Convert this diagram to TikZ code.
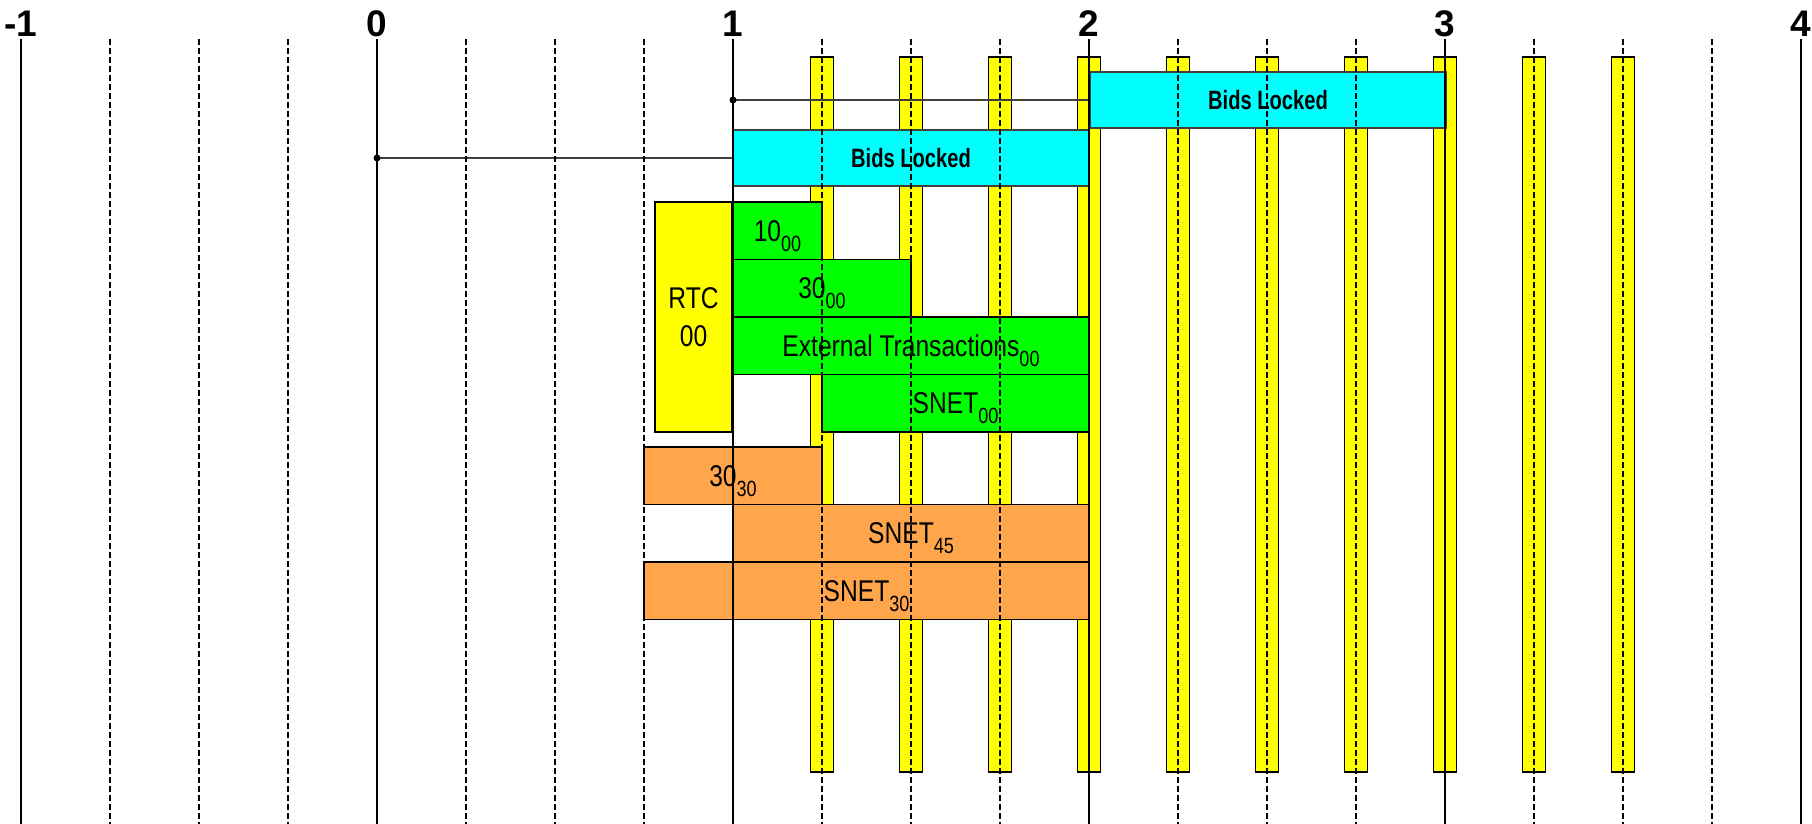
\documentclass[tikz,border=0pt]{standalone}
\usepackage{fontspec}
\setmainfont{Liberation Sans}
\newfontfamily\narrowfont[FakeStretch=0.82]{Liberation Sans}
\newfontfamily\bidsfont[FakeStretch=0.76]{Liberation Sans}
\newcommand\subtxt[1]{\raisebox{-10pt}{\fontsize{22}{22}\selectfont #1}}
\definecolor{cyanbox}{HTML}{00FFFF}
\definecolor{greenbox}{HTML}{00FF00}
\definecolor{yellowbox}{HTML}{FFFF00}
\definecolor{orangebox}{HTML}{FFA64D}
\definecolor{connector}{HTML}{404040}
\begin{document}
\begin{tikzpicture}[x=1pt,y=-1pt,
  boxbase/.style={draw=black, line width=1.5pt, inner sep=0pt, outer sep=0pt, anchor=north west},
  txtbox/.style={boxbase, font=\narrowfont\fontsize{30}{30}\selectfont, text height=21pt, text depth=0pt},
  greenrect/.style={txtbox, fill=greenbox},
  orangerect/.style={txtbox, fill=orangebox},
  bidsrect/.style={boxbase, draw=connector, line width=1.2pt, fill=cyanbox,
    font=\bidsfont\bfseries\fontsize{26.5}{26.5}\selectfont, text height=19pt, text depth=0pt,
    minimum width=356pt, minimum height=56pt},
  rtcrect/.style={boxbase, fill=yellowbox, align=center,
    font=\narrowfont\fontsize{30}{38}\selectfont},
  barrect/.style={draw=black, line width=1.5pt, fill=yellowbox},
  solidline/.style={black, line width=2.8pt},
  dashline/.style={black, line width=1.3pt, dash pattern=on 6pt off 3pt},
  linkline/.style={connector, line width=1.2pt},
  axislabel/.style={anchor=base, inner sep=0pt, font=\bfseries\fontsize{37}{37}\selectfont}
]
\useasboundingbox (0,0) rectangle (1812,824);

% yellow bars
\foreach \i in {9,...,18} {
  \pgfmathsetmacro\xx{21+89*\i}
  \draw[barrect] (\xx-11.5,57) rectangle (\xx+11.5,772);
}

% boxes
\node[bidsrect] (bl1) at (1090,72) {Bids Locked};
\node[bidsrect] (bl2) at (733,130) {Bids Locked};

\node[rtcrect, minimum width=77pt, minimum height=230pt] (rtc) at (655,202) {RTC\\00};
\node[greenrect, minimum width=89pt, minimum height=57.5pt] (g10) at (733,202) {10\subtxt{00}};
\node[greenrect, minimum width=178pt, minimum height=57.5pt] (g30) at (733,259.5) {30\subtxt{00}};
\node[greenrect, minimum width=356pt, minimum height=57.5pt] (ext) at (733,317) {External Transactions\subtxt{00}};
\node[greenrect, minimum width=267pt, minimum height=57.5pt] (sn00) at (822,374.5) {SNET\subtxt{00}};

\node[orangerect, minimum width=178pt, minimum height=57.5pt] (o30) at (644,447) {30\subtxt{30}};
\node[orangerect, minimum width=356pt, minimum height=57.5pt] (sn45) at (733,504.5) {SNET\subtxt{45}};
\node[orangerect, minimum width=445pt, minimum height=57.5pt] (sn30) at (644,562) {SNET\subtxt{30}};

% connectors
\coordinate (d1) at (733,100);
\coordinate (d2) at (377,158);
\draw[linkline] (d1) -- (bl1.west);
\draw[linkline] (d2) -- (bl2.west);
\fill[black] (d1) circle[radius=3.5pt];
\fill[black] (d2) circle[radius=3.5pt];

% grid lines
\foreach \i in {1,2,3,5,6,7,9,10,11,13,14,15,17,18,19} {
  \pgfmathsetmacro\xx{21+89*\i}
  \draw[dashline] (\xx,39) -- (\xx,824);
}
\foreach \i/\lab in {0/-1,4/0,8/1,12/2,16/3,20/4} {
  \pgfmathsetmacro\xx{21+89*\i}
  \draw[solidline] (\xx,39) -- (\xx,824);
  \node[axislabel] (lab\i) at (\xx,37) {\lab};
}
\end{tikzpicture}
\end{document}
